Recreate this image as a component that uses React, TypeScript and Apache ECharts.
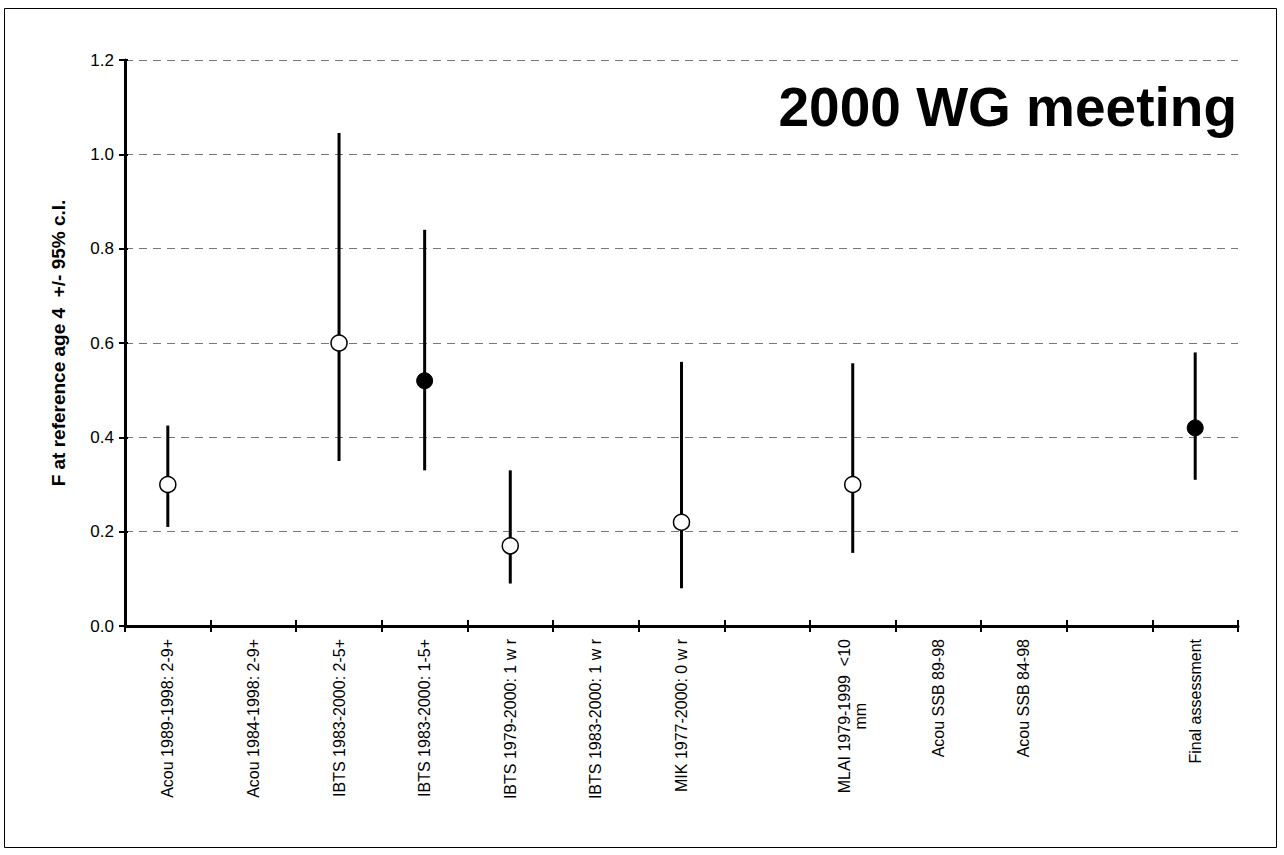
import React, { useEffect, useRef } from "react";
import * as echarts from "echarts";

const categories = [
  "Acou 1989-1998: 2-9+",
  "Acou 1984-1998: 2-9+",
  "IBTS 1983-2000: 2-5+",
  "IBTS 1983-2000: 1-5+",
  "IBTS 1979-2000: 1 w r",
  "IBTS 1983-2000: 1 w r",
  "MIK 1977-2000: 0 w r",
  "",
  "MLAI 1979-1999  <10\nmm",
  "Acou SSB 89-98",
  "Acou SSB 84-98",
  " ",
  "Final assessment",
];
const estimates = [0.30, null, 0.60, 0.52, 0.17, null, 0.22, null, 0.30, null, null, null, 0.42];
const lower = [0.21, null, 0.35, 0.33, 0.09, null, 0.08, null, 0.155, null, null, null, 0.31];
const upper = [0.425, null, 1.045, 0.84, 0.33, null, 0.56, null, 0.557, null, null, null, 0.58];
const filled = [false, false, false, true, false, false, false, false, false, false, false, false, true];
const yTicks = { min: 0, max: 1.2, interval: 0.2 };
const titleText = "2000 WG meeting";
const yName = "F at reference age 4  +/- 95% c.l.";

const FONT = "'Liberation Sans', Arial, sans-serif";

export default function App() {
  const ref = useRef<HTMLDivElement>(null);
  useEffect(() => {
    document.body.style.margin = "0";
    const chart = echarts.init(ref.current!, null, { renderer: "svg" });
    const bars: any[] = [];
    const open: any[] = [];
    const solid: any[] = [];
    categories.forEach((_, i) => {
      const v = estimates[i];
      if (v == null) return;
      bars.push([i, lower[i], upper[i]]);
      (filled[i] ? solid : open).push([i, v]);
    });
    const option: any = {
      animation: false,
      backgroundColor: "#fff",
      textStyle: { fontFamily: FONT },
      grid: { left: 125, top: 60, right: 46, bottom: 229, containLabel: false },
      xAxis: [
        {
          type: "category",
          data: categories,
          boundaryGap: true,
          axisLine: { lineStyle: { color: "#000", width: 3 } },
          axisTick: { show: true, length: 6, interval: 0, lineStyle: { color: "#000", width: 2 } },
          axisLabel: {
            interval: 0,
            rotate: 90,
            margin: 13,
            fontSize: 16,
            color: "#000",
            fontFamily: FONT,
            formatter: (val: string) => {
              if (val.indexOf("\n") >= 0) {
                const parts = val.split("\n");
                return "{a|" + parts[0] + "}\n{b|" + parts[1] + "}";
              }
              return val;
            },
            rich: {
              a: { fontSize: 16, color: "#000", fontFamily: FONT },
              b: { fontSize: 16, color: "#000", fontFamily: FONT, align: "center" },
            },
          },
          splitLine: { show: false },
        },
        {
          type: "category",
          data: categories,
          position: "bottom",
          boundaryGap: true,
          axisLine: { show: false },
          axisTick: { show: true, inside: true, length: 6, interval: 0, lineStyle: { color: "#000", width: 2 } },
          axisLabel: { show: false },
          splitLine: { show: false },
        },
      ],
      yAxis: [
        {
          type: "value",
          min: yTicks.min,
          max: yTicks.max,
          interval: yTicks.interval,
          name: yName,
          nameLocation: "middle",
          nameRotate: 90,
          nameGap: 57,
          nameTextStyle: { fontSize: 19, fontWeight: "bold", color: "#000", fontFamily: FONT },
          axisLine: { show: true, lineStyle: { color: "#000", width: 3 } },
          axisTick: { show: true, length: 6, lineStyle: { color: "#000", width: 2 } },
          axisLabel: {
            margin: 11,
            fontSize: 17,
            color: "#000",
            fontFamily: FONT,
            formatter: (v: number) => v.toFixed(1),
          },
          splitLine: { show: true, lineStyle: { color: "#777", width: 1, type: [8, 6] } },
        },
        {
          type: "value",
          min: yTicks.min,
          max: yTicks.max,
          interval: yTicks.interval,
          position: "left",
          axisLine: { show: false },
          axisTick: { show: true, inside: true, length: 3, lineStyle: { color: "#000", width: 2 } },
          axisLabel: { show: false },
          splitLine: { show: false },
        },
      ],
      series: [
        {
          type: "custom",
          xAxisIndex: 0,
          yAxisIndex: 0,
          data: bars,
          encode: { x: 0, y: [1, 2] },
          z: 2,
          renderItem: (params: any, api: any) => {
            const x = api.value(0);
            const lo = api.coord([x, api.value(1)]);
            const hi = api.coord([x, api.value(2)]);
            return {
              type: "line",
              shape: { x1: lo[0], y1: lo[1], x2: hi[0], y2: hi[1] },
              style: { stroke: "#000", lineWidth: 3 },
            };
          },
        },
        {
          type: "scatter",
          data: open,
          symbol: "circle",
          symbolSize: 16,
          z: 3,
          itemStyle: { color: "#fff", borderColor: "#000", borderWidth: 1.5, opacity: 1 },
        },
        {
          type: "scatter",
          data: solid,
          symbol: "circle",
          symbolSize: 16,
          z: 3,
          itemStyle: { color: "#000", borderColor: "#000", borderWidth: 1, opacity: 1 },
        },
      ],
      graphic: [
        {
          type: "rect",
          shape: { x: 4.5, y: 8.5, width: 1272, height: 839 },
          style: { fill: "none", stroke: "#000", lineWidth: 1 },
          silent: true,
          z: 0,
        },
        {
          type: "text",
          x: 1237,
          y: 107,
          style: {
            text: titleText,
            fontSize: 55,
            fontWeight: "bold",
            fontFamily: FONT,
            fill: "#000",
            align: "right",
            verticalAlign: "middle",
          },
          z: 10,
        },
      ],
    };
    chart.setOption(option);
    return () => chart.dispose();
  }, []);
  return <div ref={ref} style={{ width: 1284, height: 855 }} />;
}
